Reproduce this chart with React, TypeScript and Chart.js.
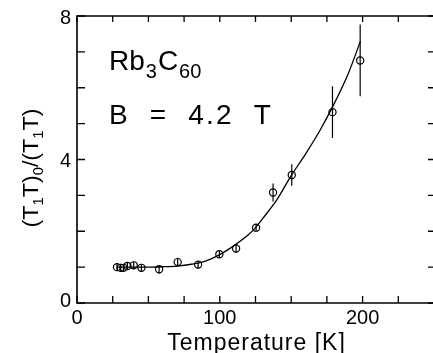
import React, { useEffect, useRef } from "react";
import { Chart, registerables } from "chart.js";

Chart.register(...registerables);

// Measured data points: temperature [K], ratio, error
const tempK = [28.0, 30.6, 32.5, 35.3, 39.7, 45.1, 57.5, 70.5, 84.8, 99.7, 111.4, 125.4, 137.3, 150.4, 178.9, 198.3];
const ratio = [1.0, 0.98, 0.98, 1.03, 1.05, 0.98, 0.94, 1.14, 1.07, 1.36, 1.52, 2.1, 3.08, 3.57, 5.32, 6.76];
const ratioErr = [0.1, 0.1, 0.1, 0.1, 0.1, 0.1, 0.12, 0.12, 0.1, 0.1, 0.12, 0.1, 0.25, 0.3, 0.72, 1.0];

// Fit curve
const fitT = [28, 40, 50, 60, 70, 80, 90, 100, 110, 120, 125, 130, 140, 150, 160, 170, 180, 190, 198.5];
const fitY = [1.0, 1.0, 1.0, 1.01, 1.03, 1.08, 1.17, 1.35, 1.6, 1.9, 2.1, 2.35, 2.88, 3.55, 4.15, 4.8, 5.55, 6.4, 7.3];

// Axes
const xMin = 0;
const xMax = 250;
const yMin = 0;
const yMax = 8;
const xTicks = [0, 25, 50, 75, 100, 125, 150, 175, 200, 225, 250];
const xTickLabels = [0, 100, 200];
const yTicks = [0, 1, 2, 3, 4, 5, 6, 7, 8];
const yTickLabels = [0, 4, 8];

const FONT = "'Liberation Sans', Arial, sans-serif";

const framePlugin = {
  id: "frame",
  afterDatasetsDraw(chart: any) {
    const ctx = chart.ctx;
    const xs = chart.scales.x;
    const ys = chart.scales.y;
    ctx.save();
    ctx.strokeStyle = "#000";
    ctx.lineWidth = 1.2;
    for (let i = 0; i < tempK.length; i++) {
      const px = xs.getPixelForValue(tempK[i]);
      const top = ys.getPixelForValue(ratio[i] + ratioErr[i]);
      const bot = ys.getPixelForValue(ratio[i] - ratioErr[i]);
      ctx.beginPath();
      ctx.moveTo(px, top);
      ctx.lineTo(px, bot);
      ctx.stroke();
    }
    ctx.restore();
  },
  afterDraw(chart: any) {
    const ctx = chart.ctx;
    const xs = chart.scales.x;
    const ys = chart.scales.y;
    const a = chart.chartArea;
    ctx.save();
    ctx.strokeStyle = "#000";
    ctx.fillStyle = "#000";
    ctx.lineWidth = 1.6;
    ctx.beginPath();
    ctx.rect(a.left, a.top, a.right - a.left, a.bottom - a.top);
    ctx.stroke();

    ctx.lineWidth = 1.3;
    ctx.beginPath();
    for (const t of xTicks) {
      const px = xs.getPixelForValue(t);
      ctx.moveTo(px, a.bottom);
      ctx.lineTo(px, a.bottom - 7);
      ctx.moveTo(px, a.top);
      ctx.lineTo(px, a.top + 6);
    }
    for (const t of yTicks) {
      const py = ys.getPixelForValue(t);
      ctx.moveTo(a.left, py);
      ctx.lineTo(a.left + 8, py);
      ctx.moveTo(a.right, py);
      ctx.lineTo(a.right - 6, py);
    }
    ctx.stroke();

    // tick labels
    ctx.font = `20px ${FONT}`;
    ctx.textAlign = "center";
    ctx.textBaseline = "middle";
    for (const t of xTickLabels) {
      ctx.fillText(String(t), xs.getPixelForValue(t), a.bottom + 15);
    }
    ctx.textAlign = "right";
    for (const t of yTickLabels) {
      const py = ys.getPixelForValue(t);
      const off = t === yMin ? -2 : 2;
      ctx.fillText(String(t), a.left - 6, py + off);
    }

    // x title
    ctx.font = `23px ${FONT}`;
    (ctx as any).letterSpacing = "1px";
    ctx.textAlign = "center";
    ctx.fillText("Temperature [K]", (a.left + a.right) / 2 + 1, a.bottom + 41);
    (ctx as any).letterSpacing = "0px";

    // y title with subscripts
    const parts: [string, boolean][] = [
      ["(T", false], ["1", true], ["T)", false], ["0", true], ["/(T", false], ["1", true], ["T)", false],
    ];
    const big = `22px ${FONT}`;
    const small = `14px ${FONT}`;
    let total = 0;
    for (const [s, sub] of parts) {
      ctx.font = sub ? small : big;
      total += ctx.measureText(s).width;
    }
    const targetLen = 119;
    ctx.save();
    ctx.translate(38, 168);
    ctx.rotate(-Math.PI / 2);
    ctx.scale(targetLen / total, 1);
    ctx.textAlign = "left";
    ctx.textBaseline = "alphabetic";
    let cx = -total / 2;
    for (const [s, sub] of parts) {
      ctx.font = sub ? small : big;
      ctx.fillText(s, cx, sub ? 5 : 0);
      cx += ctx.measureText(s).width;
    }
    ctx.restore();

    // annotations
    const ax = xs.getPixelForValue(22.4);
    ctx.textAlign = "left";
    ctx.textBaseline = "alphabetic";
    const annot: [string, boolean][] = [["Rb", false], ["3", true], ["C", false], ["60", true]];
    let bx = ax;
    const by = ys.getPixelForValue(6.5);
    for (const [s, sub] of annot) {
      ctx.font = sub ? `20px ${FONT}` : `28px ${FONT}`;
      ctx.fillText(s, bx, sub ? by + 8 : by);
      bx += ctx.measureText(s).width + 1;
    }
    ctx.font = `28px ${FONT}`;
    (ctx as any).letterSpacing = "2.2px";
    ctx.fillText("B  =  4.2  T", ax, ys.getPixelForValue(5.0));
    (ctx as any).letterSpacing = "0px";
    ctx.restore();
  },
};

export default function App() {
  const ref = useRef<HTMLCanvasElement | null>(null);
  useEffect(() => {
    if (!ref.current) return;
    const chart = new Chart(ref.current, {
      type: "scatter",
      data: {
        datasets: [
          {
            type: "line",
            data: fitT.map((t, i) => ({ x: t, y: fitY[i] })),
            borderColor: "#000",
            borderWidth: 1.3,
            pointRadius: 0,
            tension: 0.4,
            cubicInterpolationMode: "monotone",
            fill: false,
          } as any,
          {
            type: "scatter",
            data: tempK.map((t, i) => ({ x: t, y: ratio[i] })),
            borderColor: "#000",
            backgroundColor: "rgba(0,0,0,0)",
            borderWidth: 1.2,
            pointRadius: 3.6,
            pointStyle: "circle",
          },
        ],
      },
      options: {
        animation: false,
        responsive: false,
        events: [],
        layout: { padding: { left: 77, top: 16, right: 6, bottom: 50 } },
        plugins: { legend: { display: false }, tooltip: { enabled: false } },
        scales: {
          x: { type: "linear", min: xMin, max: xMax, display: false },
          y: { type: "linear", min: yMin, max: yMax, display: false },
        },
      },
      plugins: [framePlugin],
    });
    return () => chart.destroy();
  }, []);
  return (
    <div style={{ position: "absolute", left: 0, top: 0, width: 440, height: 353, background: "#fff" }}>
      <canvas ref={ref} width={440} height={353} style={{ width: 440, height: 353, display: "block" }} />
    </div>
  );
}
